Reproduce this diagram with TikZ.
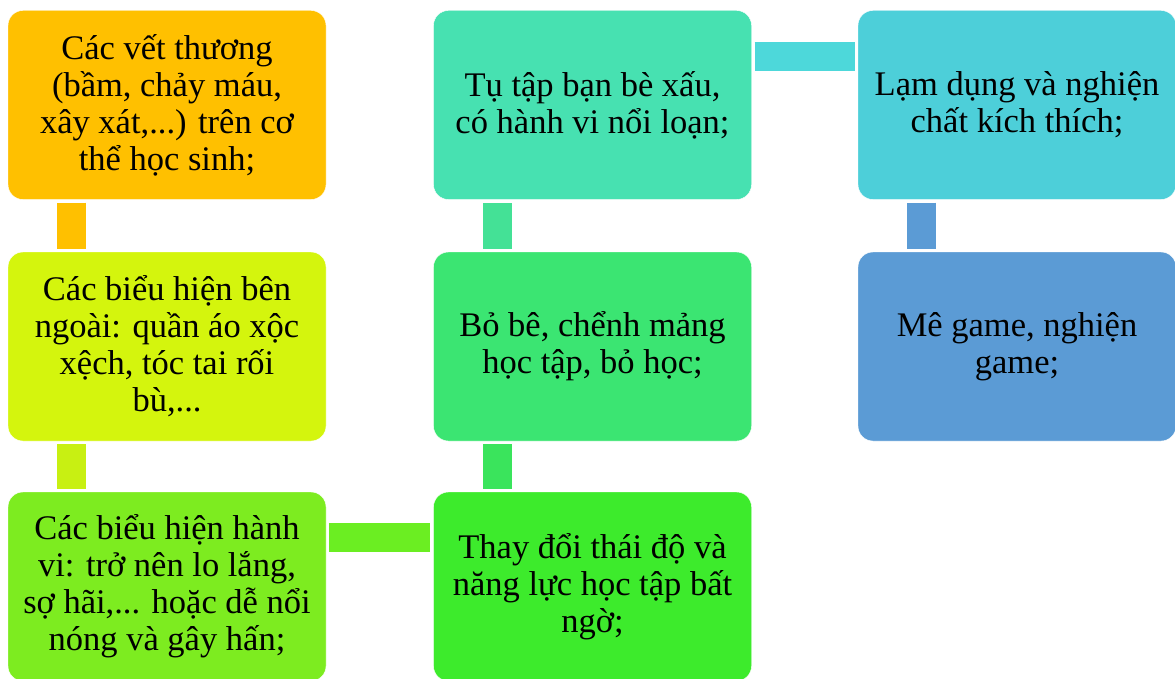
\documentclass[tikz,border=0pt]{standalone}
\usepackage{fontspec}
\setmainfont{Liberation Serif}
\usepackage{tikz}
\usetikzlibrary{positioning}

\definecolor{camvang}{HTML}{FFC000}
\definecolor{vangchanh}{HTML}{D4F50D}
\definecolor{xanhnon}{HTML}{7DEC20}
\definecolor{xanhla}{HTML}{3DEB2C}
\definecolor{xanhngoc}{HTML}{3BE572}
\definecolor{xanhbiec}{HTML}{47E1B1}
\definecolor{xanhlo}{HTML}{4DCFD9}
\definecolor{xanhduong}{HTML}{5B9BD5}

\begin{document}
\begin{tikzpicture}[x=1pt, y=1pt,
  every node/.style={rounded corners=15pt, minimum width=318pt, minimum height=189pt,
    inner sep=0pt, align=center, text=black, draw=white,
    font=\fontsize{34.5}{37}\selectfont},
  bar/.style={line width=29pt, shorten >=3pt, shorten <=3pt}]
\useasboundingbox (0,0) rectangle (1175,-679);

            % Khung
            \node[fill=camvang] (vet) at (167,-105) {Các vết thương\\(bầm, chảy máu,\\xây xát,...) trên cơ\\thể học sinh;};
            \node[fill=vangchanh] (ngoai) at (167,-346.5) {Các biểu hiện bên\\ngoài: quần áo xộc\\xệch, tóc tai rối\\bù,...};
            \node[fill=xanhnon] (hanhvi) at (167,-586.5) {Các biểu hiện hành\\vi: trở nên lo lắng,\\sợ hãi,... hoặc dễ nổi\\nóng và gây hấn;};
            \node[fill=xanhla] (thaido) at (592.5,-586.5) {Thay đổi thái độ và\\năng lực học tập bất\\ngờ;};
            \node[fill=xanhngoc] (bobe) at (592.5,-346.5) {Bỏ bê, chểnh mảng\\học tập, bỏ học;};
            \node[fill=xanhbiec] (tutap) at (592.5,-105) {Tụ tập bạn bè xấu,\\có hành vi nổi loạn;};
            \node[fill=xanhlo] (chat) at (1017,-105) {Lạm dụng và nghiện\\chất kích thích;};
            \node[fill=xanhduong] (game) at (1017,-346.5) {Mê game, nghiện\\game;};

            % Thanh nối
            \draw[bar, camvang] ([xshift=64pt]vet.south west) -- ([xshift=64pt]ngoai.north west);
            \draw[bar, color={rgb,255:red,200;green,240;blue,18}] ([xshift=64pt]ngoai.south west) -- ([xshift=64pt]hanhvi.north west);
            \draw[bar, color={rgb,255:red,107;green,238;blue,34}] ([yshift=-46pt]hanhvi.north east) -- ([yshift=-46pt]thaido.north west);
            \draw[bar, color={rgb,255:red,58;green,228;blue,92}] ([xshift=64pt]thaido.north west) -- ([xshift=64pt]bobe.south west);
            \draw[bar, color={rgb,255:red,68;green,225;blue,150}] ([xshift=64pt]bobe.north west) -- ([xshift=64pt]tutap.south west);
            \draw[bar, color={rgb,255:red,77;green,216;blue,218}] ([yshift=-46pt]tutap.north east) -- ([yshift=-46pt]chat.north west);
            \draw[bar, xanhduong] ([xshift=64pt]chat.south west) -- ([xshift=64pt]game.north west);
\end{tikzpicture}
\end{document}
